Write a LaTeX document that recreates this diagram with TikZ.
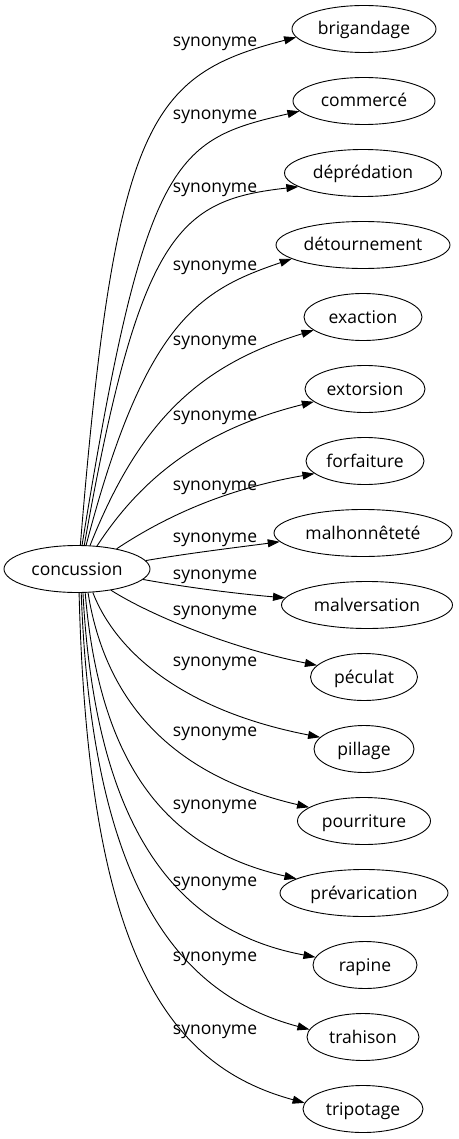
\documentclass[tikz,border=0pt]{standalone}
\usepackage{fontspec}
\setmainfont{Open Sans}
\usetikzlibrary{shapes.geometric,arrows.meta}
\begin{document}
\begin{tikzpicture}[x=1pt,y=-1pt,
  every node/.style={font=\fontsize{17.5}{20}\selectfont},
  term/.style={ellipse,draw,line width=0.9pt,minimum height=47pt,inner sep=0pt,text height=15pt,text depth=3pt},
  lab/.style={inner sep=0pt,text height=15pt,text depth=3pt},
  syn/.style={line width=0.9pt,-{Triangle[length=12pt,width=8pt]}}]
\useasboundingbox (0,0) rectangle (458,1139);
\node[term,minimum width=146pt] (c) at (77,569) {concussion};
\node[term,minimum width=144pt] (t1) at (364,29) {brigandage};
\node[term,minimum width=142pt] (t2) at (364,101) {commercé};
\node[term,minimum width=157pt] (t3) at (363,173) {déprédation};
\node[term,minimum width=174pt] (t4) at (363,245) {détournement};
\node[term,minimum width=118pt] (t5) at (363,317) {exaction};
\node[term,minimum width=120pt] (t6) at (365,389) {extorsion};
\node[term,minimum width=118pt] (t7) at (365,461) {forfaiture};
\node[term,minimum width=178pt] (t8) at (363,533) {malhonnêteté};
\node[term,minimum width=171pt] (t9) at (367,605) {malversation};
\node[term,minimum width=107pt] (t10) at (364,677) {péculat};
\node[term,minimum width=100pt] (t11) at (364,749) {pillage};
\node[term,minimum width=133pt] (t12) at (364,821) {pourriture};
\node[term,minimum width=168pt] (t13) at (364,893) {prévarication};
\node[term,minimum width=104pt] (t14) at (365,965) {rapine};
\node[term,minimum width=112pt] (t15) at (363,1037) {trahison};
\node[term,minimum width=120pt] (t16) at (363,1109) {tripotage};
\node[lab] (l1) at (215,40.7) {synonyme};
\node[lab] (l2) at (215,113.7) {synonyme};
\node[lab] (l3) at (215,186.7) {synonyme};
\node[lab] (l4) at (215,264.7) {synonyme};
\node[lab] (l5) at (215,339.7) {synonyme};
\node[lab] (l6) at (215,414.7) {synonyme};
\node[lab] (l7) at (215,484.7) {synonyme};
\node[lab] (l8) at (215,536.7) {synonyme};
\node[lab] (l9) at (215,573.7) {synonyme};
\node[lab] (l10) at (215,609.7) {synonyme};
\node[lab] (l11) at (215,660.7) {synonyme};
\node[lab] (l12) at (215,730.7) {synonyme};
\node[lab] (l13) at (215,803.7) {synonyme};
\node[lab] (l14) at (215,880.7) {synonyme};
\node[lab] (l15) at (215,955.7) {synonyme};
\node[lab] (l16) at (215,1028.7) {synonyme};
\draw[syn] (c.82.9) .. controls (115,120) and (150,75) .. (t1.187.3);
\draw[syn] (c.78.2) .. controls (145,155) and (175,140) .. (t2.189.7);
\draw[syn] (c.73.7) .. controls (140,230) and (180,200) .. (t3.192);
\draw[syn] (c.69.4) .. controls (145,320) and (200,290) .. (t4.191.9);
\draw[syn] (c.61.6) .. controls (140,420) and (200,365) .. (t5.195.8);
\draw[syn] (c.49) .. controls (140,480) and (200,430) .. (t6.194.8);
\draw[syn] (c.27.7) .. controls (160,520) and (220,490) .. (t7.194.8);
\draw[syn] (c.7.3) .. controls (190,553) and (240,547) .. (t8.186.9);
\draw[syn] (c.-9.6) .. controls (190,588) and (240,594) .. (t9.175);
\draw[syn] (c.-32.2) .. controls (150,615) and (230,648) .. (t10.166.5);
\draw[syn] (c.-56.3) .. controls (115,650) and (180,710) .. (t11.165.4);
\draw[syn] (c.-65.4) .. controls (105,700) and (170,775) .. (t12.166.4);
\draw[syn] (c.-71.6) .. controls (100,770) and (170,850) .. (t13.168);
\draw[syn] (c.-76) .. controls (95,820) and (170,930) .. (t14.171);
\draw[syn] (c.-80.5) .. controls (92,890) and (180,995) .. (t15.172.9);
\draw[syn] (c.-85.2) .. controls (88,950) and (165,1065) .. (t16.174.3);
\end{tikzpicture}
\end{document}
